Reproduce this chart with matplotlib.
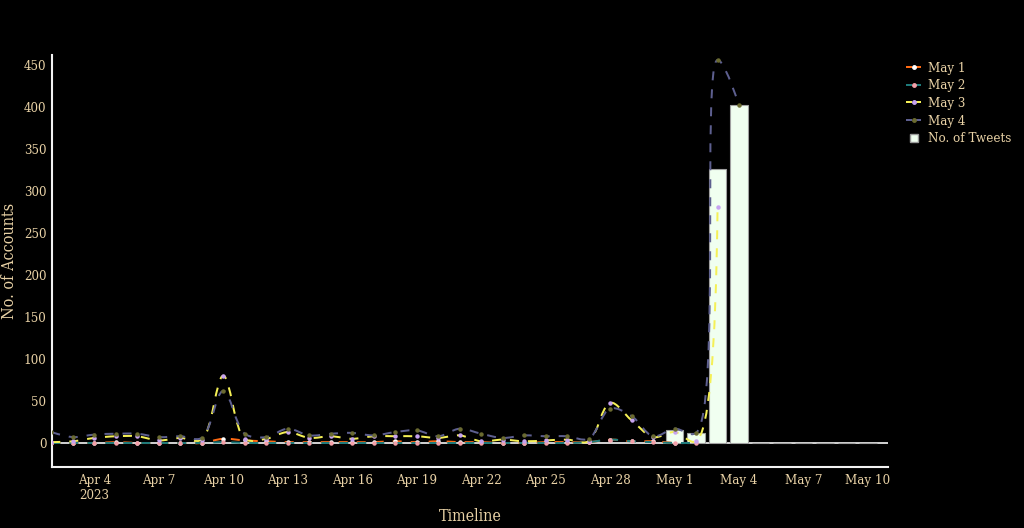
import numpy as np
import pandas as pd
import matplotlib
matplotlib.use("Agg")
import matplotlib.pyplot as plt
import matplotlib.dates as mdates
from matplotlib.path import Path
from matplotlib.patches import PathPatch
from matplotlib.lines import Line2D

# accounts per day, one series per collection date (first day is Apr 2 2023)
may1 = [0, 0, 0, 1, 0, 0, 0, 0, 5, 3, 2, 1, 1, 1, 1, 1, 2, 1, 2, 1,
        1, 0, 0, 1, 1, 1, 4, 2, 2, 0]
may2 = [0, 0, 0, 0, 0, 0, 0, 0, 1, 0, 0, 0, 0, 0, 0, 0, 0, 0, 0, 0,
        0, 0, 0, 0, 0, 1, 4, 2, 1, 0, 0]
may3 = [1, 2, 6, 8, 8, 3, 6, 4, 80, 5, 5, 13, 6, 8, 5, 8, 8, 8, 6, 9,
        2, 4, 2, 3, 4, 2, 48, 27, 7, 13, 2, 281]
may4 = [13, 7, 10, 11, 11, 7, 8, 6, 62, 11, 7, 17, 9, 11, 12, 9, 13, 15, 8, 17,
        11, 6, 9, 8, 8, 5, 41, 32, 8, 17, 12, 456, 402]
series_names = ["May 1", "May 2", "May 3", "May 4"]

# tweets per day, May 1 - May 10
tweet_counts = [15, 12, 326, 402, 0, 0, 0, 0, 0, 0]

xtick_labels = ["Apr 4\n2023", "Apr 7", "Apr 10", "Apr 13", "Apr 16", "Apr 19", "Apr 22",
                "Apr 25", "Apr 28", "May 1", "May 4", "May 7", "May 10"]
ytick_values = [0, 50, 100, 150, 200, 250, 300, 350, 400, 450]

line_colors = ["#ff6a13", "#1e7b7b", "#f5f056", "#5d5f8f"]
marker_colors = ["#ffffff", "#f4a0a8", "#c7a3f0", "#6b6b30"]
txt = "#e9d2a6"

plt.rcParams["font.family"] = "DejaVu Serif"
plt.rcParams["font.stretch"] = "condensed"

W, H = 1024, 528
fig = plt.figure(figsize=(W / 100, H / 100), dpi=100, facecolor="black")
ax = fig.add_axes([52 / W, (H - 467) / H, 836 / W, 412 / H], facecolor="black")

ax.set_xlim(mdates.date2num(pd.Timestamp("2023-04-02 00:45")),
            mdates.date2num(pd.Timestamp("2023-05-10 22:20")))
ax.set_ylim(-28.6, 461.9)


def spline_path(ax, x, y, smoothing=1.0):
    # same construction as plotly's line shape "spline", done in pixel space
    pts = ax.transData.transform(np.column_stack([x, y]))
    n = len(pts)
    tans = []
    for i in range(1, n - 1):
        d1 = pts[i - 1] - pts[i]
        d2 = pts[i + 1] - pts[i]
        d1a = np.hypot(*d1) ** 0.5
        d2a = np.hypot(*d2) ** 0.5
        num = (d2a ** 2 * d1 - d1a ** 2 * d2) * smoothing
        den1 = 3 * d2a * (d1a + d2a)
        den2 = 3 * d1a * (d1a + d2a)
        c1 = pts[i] + (num / den1 if den1 else 0)
        c2 = pts[i] - (num / den2 if den2 else 0)
        tans.append((c1, c2))
    verts = [pts[0], tans[0][0], pts[1]]
    codes = [Path.MOVETO, Path.CURVE3, Path.CURVE3]
    for i in range(2, n - 1):
        verts += [tans[i - 2][1], tans[i - 1][0], pts[i]]
        codes += [Path.CURVE4] * 3
    verts += [tans[n - 3][1], pts[n - 1]]
    codes += [Path.CURVE3] * 2
    verts = ax.transData.inverted().transform(np.array(verts))
    return Path(verts, codes)


lw = 1.44
dash = (0, (9 * 0.72 / lw, 9 * 0.72 / lw))

# bars sit under the lines
bar_dates = mdates.date2num(pd.date_range("2023-05-01", periods=len(tweet_counts)))
ax.bar(bar_dates, tweet_counts, width=0.8, color="#f0fff0", edgecolor="#a0a0a0",
       linewidth=0.8, zorder=2)
ax.axhline(0, color="#e4e4e4", lw=1.3, zorder=1.5)

handles = []
for k, vals in enumerate([may1, may2, may3, may4]):
    xd = mdates.date2num(pd.date_range("2023-04-02", periods=len(vals)))
    p = spline_path(ax, xd, vals)
    ax.add_patch(PathPatch(p, fill=False, edgecolor=line_colors[k], lw=lw,
                           linestyle=dash, capstyle="butt", zorder=3 + k))
    ax.plot(xd, vals, "o", ms=2.2, color=marker_colors[k], mec=marker_colors[k],
            zorder=3.5 + k)
    handles.append(Line2D([], [], color=line_colors[k], lw=lw, ls=(0, (3, 1.5)),
                          marker="o", ms=2.5, mfc=marker_colors[k], mec=marker_colors[k]))
handles.append(Line2D([], [], ls="none", marker="s", ms=5.5, mfc="#f0fff0", mec="#9a9a9a"))

xt = mdates.date2num(pd.date_range("2023-04-04", periods=len(xtick_labels), freq="3D"))
ax.set_xticks(xt)
ax.set_xticklabels(xtick_labels)
ax.set_yticks(ytick_values)
ax.tick_params(length=0, colors=txt, labelsize=9.5)
ax.tick_params(axis="x", pad=5)
ax.tick_params(axis="y", pad=4)

for s in ["top", "right"]:
    ax.spines[s].set_visible(False)
for s in ["left", "bottom"]:
    ax.spines[s].set_color("#f2f2f2")
    ax.spines[s].set_linewidth(1.5)

ax.set_xlabel("Timeline", color=txt, fontsize=11.5)
ax.xaxis.set_label_coords(0.5, -0.1)
ax.set_ylabel("No. of Accounts", color=txt, fontsize=11.5)
ax.yaxis.set_label_coords(-0.041, 0.5)

fig.legend(handles, series_names + ["No. of Tweets"], loc="upper left",
           bbox_to_anchor=(894 / W, 1 - 50 / H), frameon=False, fontsize=9.5,
           labelcolor=txt, handlelength=1.3, handletextpad=0.4, labelspacing=0.35)

fig.savefig("out.png", dpi=100, facecolor="black")
